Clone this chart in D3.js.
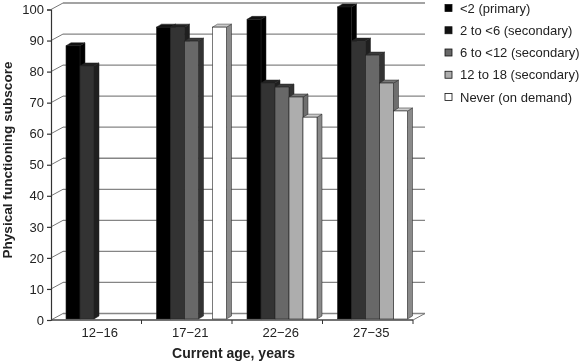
<!DOCTYPE html>
<head>
  <meta charset="utf-8">
  <script src="https://d3js.org/d3.v7.min.js"></script>
  <style>
    body { margin:0; background:#fff; }
    svg { display:block; filter:blur(0.4px); }
    text { font-family:"Liberation Sans", Arial, sans-serif; fill:#222; }
  </style>
</head>

<body>
  <script>
    var ages = ["12\u221216", "17\u221221", "22\u221226", "27\u221235"];
    var groups = ["<2 (primary)", "2 to <6 (secondary)", "6 to <12 (secondary)", "12 to 18 (secondary)", "Never (on demand)"];

    // one list per treatment group, null where there is no bar
    var primary = [88, 94, 96.5, 100.5];
    var secondary2to6 = [81.5, 94, 76, 89.5];
    var secondary6to12 = [null, 89.5, 74.7, 85];
    var secondary12to18 = [null, null, 71.5, 76];
    var never = [null, 94, 65, 67];
    var values = [primary, secondary2to6, secondary6to12, secondary12to18, never];

    var yTicks = [0, 10, 20, 30, 40, 50, 60, 70, 80, 90, 100];

    var fronts = ["#000", "#333", "#686868", "#adadad", "#fff"];
    var sides = ["#000", "#1f1f1f", "#333", "#6e6e6e", "#8a8a8a"];
    var tops = ["#111", "#222", "#3a3a3a", "#777", "#ccc"];
    var legendFills = ["#000", "#111", "#686868", "#adadad", "#fff"];

    var width = 581, height = 364;
    var depthX = 12, depthY = 6.5;   // offset of back wall
    var barX = 5, barY = 3;          // depth of a bar

    var svg = d3.select("body").append("svg")
      .attr("width", width)
      .attr("height", height);

    var x = d3.scaleBand().domain(ages).range([51, 413]);
    var y = d3.scaleLinear().domain([0, 100]).range([320, 9.5]);
    var inner = d3.scaleBand().domain(d3.range(groups.length)).range([15, 85]);

    // walls
    svg.selectAll("line.grid").data(yTicks).enter().append("line")
      .attr("x1", x.range()[0] + depthX)
      .attr("x2", x.range()[1] + depthX)
      .attr("y1", function(d) { return y(d) - depthY; })
      .attr("y2", function(d) { return y(d) - depthY; })
      .style("stroke", "#858585").style("stroke-width", 1.3);

    svg.selectAll("line.wall").data(yTicks).enter().append("line")
      .attr("x1", x.range()[0])
      .attr("x2", x.range()[0] + depthX)
      .attr("y1", function(d) { return y(d); })
      .attr("y2", function(d) { return y(d) - depthY; })
      .style("stroke", "#777").style("stroke-width", 1);

    svg.append("line")
      .attr("x1", x.range()[1]).attr("x2", x.range()[1] + depthX)
      .attr("y1", y(0)).attr("y2", y(0) - depthY)
      .style("stroke", "#777");

    // bars, back to front inside each group
    ages.forEach(function(age, a) {
      groups.forEach(function(g, s) {
        var v = values[s][a];
        if (v === null) return;
        var x0 = x(age) + inner(s), w = inner.bandwidth();
        var top = y(v) - 1, bottom = y(0) - 1;

        svg.append("path")
          .attr("d", "M" + (x0 + w) + "," + top + "l" + barX + "," + (-barY) + "V" + (bottom - barY) + "l" + (-barX) + "," + barY + "Z")
          .style("fill", sides[s]).style("stroke", "#222").style("stroke-width", 0.5);
        svg.append("path")
          .attr("d", "M" + x0 + "," + top + "l" + barX + "," + (-barY) + "h" + w + "l" + (-barX) + "," + barY + "Z")
          .style("fill", tops[s]).style("stroke", "#222").style("stroke-width", 0.5);
        svg.append("rect")
          .attr("x", x0).attr("y", top)
          .attr("width", w).attr("height", bottom - top)
          .style("fill", fronts[s]).style("stroke", "#222").style("stroke-width", 0.6);
      });
    });

    // axes
    var yAxis = svg.append("g")
      .attr("transform", "translate(" + x.range()[0] + ",0)")
      .call(d3.axisLeft(y).tickValues(yTicks).tickSize(4).tickPadding(3));
    yAxis.selectAll("path,line").style("stroke", "#333").style("stroke-width", 1.2);
    yAxis.selectAll("text").style("font-size", "13px").style("font-family", "Liberation Sans");

    var xAxis = svg.append("g")
      .attr("transform", "translate(3.5," + y(0) + ")")
      .call(d3.axisBottom(x).tickSize(0).tickPadding(8));
    xAxis.select("path").remove();
    xAxis.selectAll("text").style("font-size", "13px").style("font-family", "Liberation Sans");

    svg.append("line")
      .attr("x1", x.range()[0]).attr("x2", x.range()[1])
      .attr("y1", y(0)).attr("y2", y(0))
      .style("stroke", "#444").style("stroke-width", 1.6);

    svg.selectAll("line.xtick").data(ages.map(function(d) { return x(d) + x.step(); })).enter().append("line")
      .attr("x1", function(d) { return d; }).attr("x2", function(d) { return d; })
      .attr("y1", y(0)).attr("y2", y(0) + 4)
      .style("stroke", "#333");

    // titles
    svg.append("text")
      .attr("transform", "translate(12,160) rotate(-90)")
      .attr("text-anchor", "middle")
      .style("font-size", "13.6px").style("font-weight", "bold")
      .text("Physical functioning subscore");
    svg.append("text")
      .attr("x", 233.5).attr("y", 358)
      .attr("text-anchor", "middle")
      .style("font-size", "14px").style("font-weight", "bold")
      .text("Current age, years");

    // legend
    var legendY = d3.scalePoint().domain(groups).range([8, 97]);
    var legend = svg.selectAll("g.legend").data(groups).enter().append("g")
      .attr("transform", function(d) { return "translate(445," + legendY(d) + ")"; });
    legend.append("rect")
      .attr("x", 0).attr("y", -3.5).attr("width", 7).attr("height", 7)
      .style("fill", function(d, i) { return legendFills[i]; })
      .style("stroke", "#111").style("stroke-width", 0.8);
    legend.append("text")
      .attr("x", 15).attr("y", 4.5)
      .style("font-size", "13px")
      .text(function(d) { return d; });
  </script>
</body>
